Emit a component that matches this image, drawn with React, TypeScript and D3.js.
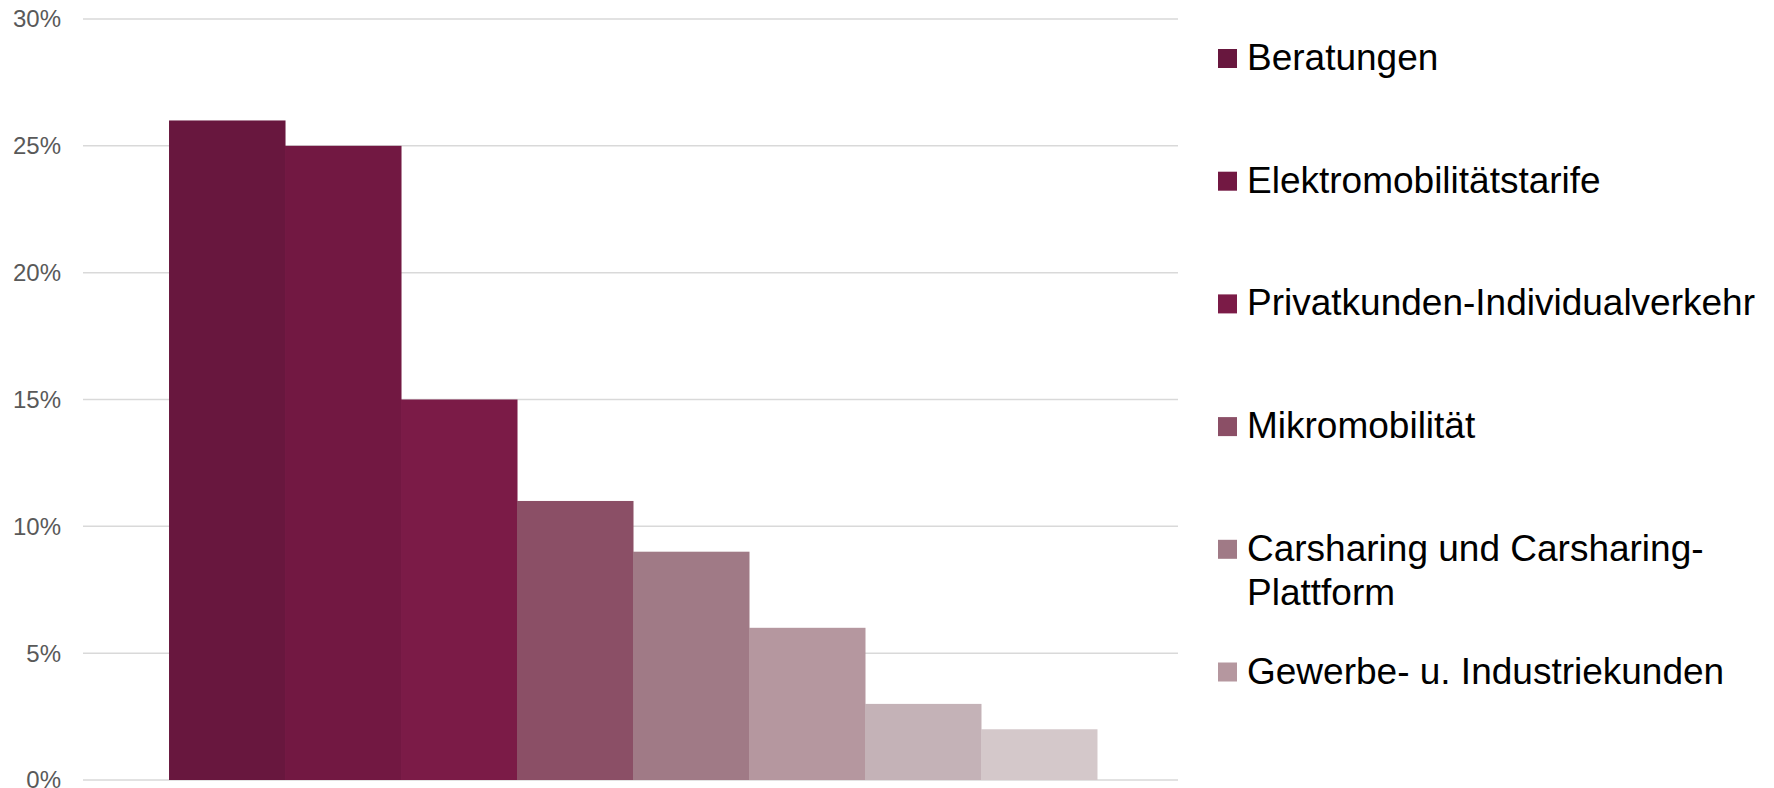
import React, { useRef, useEffect } from 'react';
import * as d3 from 'd3';

// Share of answers per business field (last two fields are cut off in the legend)
const seriesNames = [
  'Beratungen',
  'Elektromobilitätstarife',
  'Privatkunden-Individualverkehr',
  'Mikromobilität',
  'Carsharing und Carsharing-Plattform',
  'Gewerbe- u. Industriekunden',
];
const seriesValues = [0.26, 0.25, 0.15, 0.11, 0.09, 0.06, 0.03, 0.02];
const seriesColors = [
  '#68173e',
  '#721842',
  '#7b1b47',
  '#8b4f66',
  '#a07a86',
  '#b5979f',
  '#c4b2b7',
  '#d4c8ca',
];
const yTicks = [0, 0.05, 0.1, 0.15, 0.2, 0.25, 0.3];

const WIDTH = 1774;
const HEIGHT = 788;
const FONT = '"Liberation Sans", Arial, sans-serif';

const App: React.FC = () => {
  const svgRef = useRef<SVGSVGElement>(null);

  useEffect(() => {
    document.body.style.margin = '0';
    if (!svgRef.current) return;

    const svg = d3.select(svgRef.current);
    svg.selectAll('*').remove();

    const plot = { left: 83, right: 1178, top: 19, bottom: 780 };

    const y = d3.scaleLinear().domain([0, 0.3]).range([plot.bottom, plot.top]);

    // one category holding all series side by side
    const group = d3
      .scaleBand<string>()
      .domain(['all'])
      .range([plot.left, plot.right])
      .paddingInner(0)
      .paddingOuter(0.09)
      .align(0.515);

    const x = d3
      .scaleBand<number>()
      .domain(d3.range(seriesValues.length))
      .range([group('all')!, group('all')! + group.bandwidth()])
      .padding(0);

    // gridlines
    svg
      .append('g')
      .selectAll('line')
      .data(yTicks)
      .enter()
      .append('line')
      .attr('x1', plot.left)
      .attr('x2', plot.right)
      .attr('y1', (d) => y(d))
      .attr('y2', (d) => y(d))
      .attr('stroke', '#d9d9d9')
      .attr('stroke-width', 1.5);

    // y labels
    svg
      .append('g')
      .selectAll('text')
      .data(yTicks)
      .enter()
      .append('text')
      .attr('x', 61)
      .attr('y', (d) => y(d))
      .attr('dy', '0.35em')
      .attr('text-anchor', 'end')
      .attr('font-family', FONT)
      .attr('font-size', 24)
      .attr('fill', '#595959')
      .text((d) => d3.format('.0%')(d));

    // bars
    svg
      .append('g')
      .selectAll('rect')
      .data(seriesValues)
      .enter()
      .append('rect')
      .attr('x', (_, i) => x(i)!)
      .attr('width', x.bandwidth() + 0.5)
      .attr('y', (d) => y(d))
      .attr('height', (d) => plot.bottom - y(d))
      .attr('fill', (_, i) => seriesColors[i]);

    // legend
    const legendX = 1218;
    const legendTop = 70;
    const legendStep = 122.7;
    const lineHeight = 44;
    const maxTextWidth = 525;

    const legend = svg
      .append('g')
      .attr('font-family', FONT)
      .attr('font-size', 37)
      .selectAll('g')
      .data(seriesNames)
      .enter()
      .append('g')
      .attr('transform', (_, i) => `translate(${legendX},${legendTop + i * legendStep})`);

    legend
      .append('rect')
      .attr('x', 0)
      .attr('y', -21)
      .attr('width', 19)
      .attr('height', 19)
      .attr('fill', (_, i) => seriesColors[i]);

    legend.each(function (name) {
      const text = d3
        .select(this)
        .append('text')
        .attr('x', 29)
        .attr('y', 0)
        .attr('fill', '#000');

      // wrap on spaces / hyphens when the line gets too long
      const pieces = name.match(/[^\s-]+-?\s*/g) || [name];
      let line = '';
      let tspan = text.append('tspan').attr('x', 29).attr('dy', 0);
      pieces.forEach((p) => {
        const test = line + p;
        tspan.text(test.trimEnd());
        if ((tspan.node() as SVGTSpanElement).getComputedTextLength() > maxTextWidth && line) {
          tspan.text(line.trimEnd());
          line = p;
          tspan = text.append('tspan').attr('x', 29).attr('dy', lineHeight).text(p.trimEnd());
        } else {
          line = test;
        }
      });
    });
  }, []);

  return (
    <div style={{ width: WIDTH, height: HEIGHT, overflow: 'hidden', background: '#fff' }}>
      <svg ref={svgRef} width={WIDTH} height={HEIGHT} />
    </div>
  );
};

export default App;
